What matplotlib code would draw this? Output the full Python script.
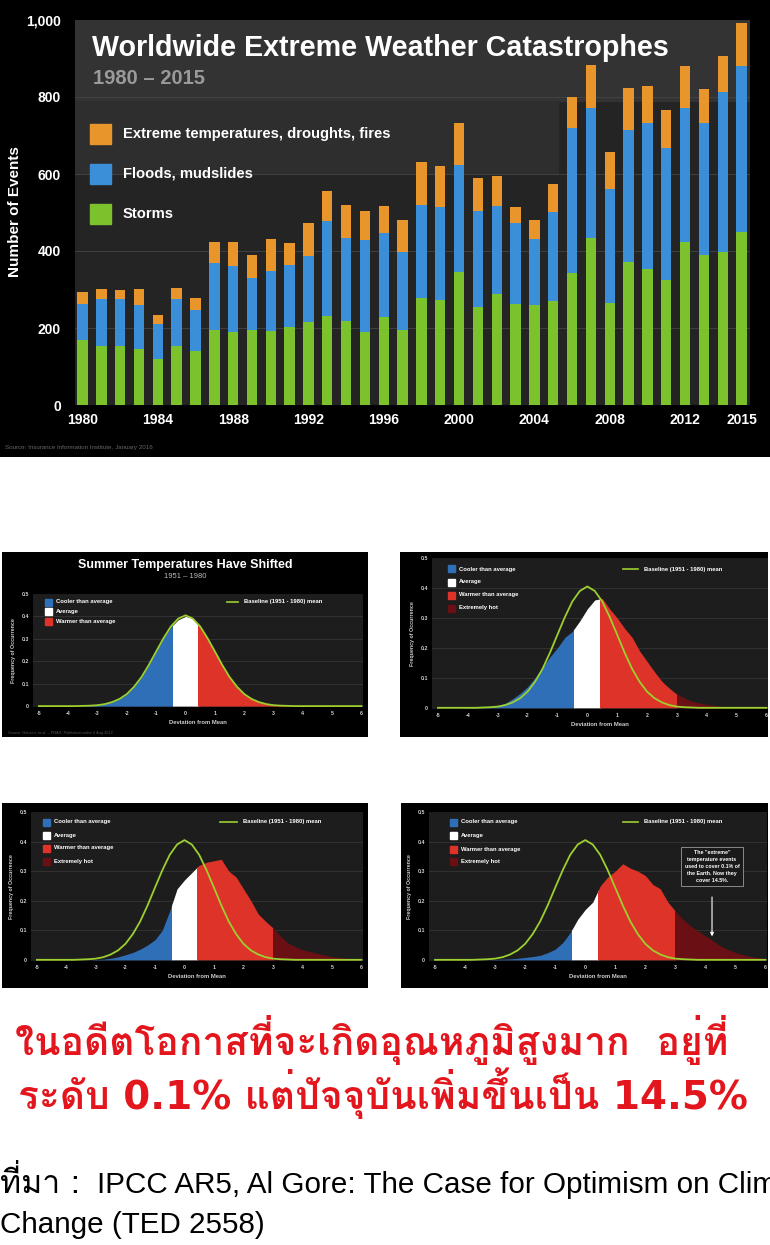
import matplotlib
matplotlib.use("Agg")
import matplotlib.pyplot as plt
from matplotlib.patches import Rectangle

W, H = 770, 1245

# ---- top chart data (number of events per year) ----
years = list(range(1980, 2016))
storms = [169, 153, 153, 146, 119, 152, 139, 195, 190, 195, 192, 203, 216, 232, 218, 190, 229, 195,
          277, 273, 346, 255, 288, 262, 260, 271, 342, 435, 266, 372, 352, 325, 424, 390, 398, 450]
floods = [93, 122, 122, 115, 91, 123, 108, 173, 172, 134, 155, 161, 171, 247, 217, 239, 217, 203,
          242, 242, 277, 250, 229, 210, 170, 231, 377, 336, 294, 342, 381, 342, 347, 342, 416, 431]
temps = [31, 26, 25, 40, 25, 29, 32, 55, 62, 61, 83, 58, 87, 77, 85, 76, 71, 82,
         111, 106, 109, 85, 78, 41, 51, 72, 82, 112, 98, 109, 96, 98, 110, 88, 92, 112]
year_ticks = [1980, 1984, 1988, 1992, 1996, 2000, 2004, 2008, 2012, 2015]
event_ticks = [0, 200, 400, 600, 800, 1000]
event_labels = ["0", "200", "400", "600", "800", "1,000"]

# ---- temperature distributions (deviation from mean, in sigma) ----
dev = [-5, -4.75, -4.5, -4.25, -4, -3.75, -3.5, -3.25, -3, -2.75, -2.5, -2.25, -2, -1.75, -1.5,
       -1.25, -1, -0.75, -0.5, -0.25, 0, 0.25, 0.5, 0.75, 1, 1.25, 1.5, 1.75, 2, 2.25, 2.5, 2.75,
       3, 3.25, 3.5, 3.75, 4, 4.25, 4.5, 4.75, 5, 5.25, 5.5, 5.75, 6]
baseline = [0, 0, 0, 0, 0, 0, 0.001, 0.002, 0.004, 0.009, 0.018, 0.032, 0.054, 0.087, 0.13, 0.184,
            0.244, 0.303, 0.355, 0.39, 0.405, 0.39, 0.355, 0.303, 0.244, 0.184, 0.13, 0.087, 0.054,
            0.032, 0.018, 0.009, 0.004, 0.002, 0.001, 0, 0, 0, 0, 0, 0, 0, 0, 0, 0]
hist_1951 = [0, 0, 0, 0, 0, 0, 0.001, 0.002, 0.004, 0.009, 0.018, 0.032, 0.054, 0.087, 0.13, 0.184,
             0.244, 0.303, 0.352, 0.385, 0.40, 0.392, 0.35, 0.303, 0.244, 0.184, 0.13, 0.087, 0.054,
             0.032, 0.018, 0.009, 0.004, 0.002, 0.001, 0, 0, 0, 0, 0, 0, 0, 0, 0, 0]
hist_b = [0, 0, 0, 0, 0.001, 0.001, 0.002, 0.004, 0.007, 0.015, 0.03, 0.048, 0.07, 0.1, 0.135,
          0.17, 0.2, 0.235, 0.255, 0.29, 0.33, 0.36, 0.365, 0.33, 0.3, 0.265, 0.235, 0.19, 0.155,
          0.12, 0.088, 0.065, 0.045, 0.033, 0.022, 0.016, 0.011, 0.008, 0.005, 0.004, 0.003,
          0.002, 0.002, 0.001, 0.001]
hist_c = [0, 0, 0, 0, 0, 0, 0, 0, 0.001, 0.002, 0.005, 0.01, 0.017, 0.025, 0.036, 0.05, 0.068,
          0.1, 0.165, 0.24, 0.27, 0.295, 0.32, 0.33, 0.335, 0.34, 0.3, 0.28, 0.24, 0.2, 0.155,
          0.13, 0.108, 0.08, 0.057, 0.045, 0.034, 0.028, 0.022, 0.016, 0.011, 0.008, 0.005,
          0.003, 0.002]
hist_d = [0, 0, 0, 0, 0, 0, 0, 0, 0.001, 0.002, 0.003, 0.005, 0.008, 0.011, 0.015, 0.024, 0.036,
          0.058, 0.092, 0.137, 0.17, 0.195, 0.25, 0.28, 0.30, 0.325, 0.31, 0.30, 0.285, 0.255,
          0.24, 0.195, 0.165, 0.137, 0.115, 0.098, 0.081, 0.064, 0.047, 0.035, 0.025, 0.017,
          0.011, 0.007, 0.004]

GREEN, BLUE, ORANGE = "#7cc22c", "#3b8fd9", "#e8962b"


def rect(x0, y0, x1, y1):
    return [x0 / W, 1 - y1 / H, (x1 - x0) / W, (y1 - y0) / H]


def fx(x):
    return x / W


def fy(y):
    return 1 - y / H


def black_box(x0, y0, x1, y1):
    b = fig.add_axes(rect(x0, y0, x1, y1))
    b.set_facecolor("black")
    b.set_xticks([])
    b.set_yticks([])
    for s in b.spines.values():
        s.set_visible(False)
    return b


plt.rcParams["font.family"] = ["Liberation Sans", "DejaVu Sans"]
fig = plt.figure(figsize=(W / 100, H / 100), dpi=100, facecolor="white")

# ================= top bar chart =================
black_box(0, 0, 770, 457)
ax = fig.add_axes(rect(75, 20, 750, 405))
ax.set_facecolor("#242424")
ax.add_patch(Rectangle((0, 0.79), 1, 0.21, transform=ax.transAxes, color="#333333", zorder=0))
ax.add_patch(Rectangle((0, 0.60), 0.715, 0.19, transform=ax.transAxes, color="#2e2e2e", zorder=0))
for g in [200, 400, 600, 800]:
    ax.axhline(g, color="#444444", lw=0.6, zorder=1)

bottom2 = [s + f for s, f in zip(storms, floods)]
ax.bar(years, storms, width=0.55, color=GREEN, zorder=3)
ax.bar(years, floods, width=0.55, bottom=storms, color=BLUE, zorder=3)
ax.bar(years, temps, width=0.55, bottom=bottom2, color=ORANGE, zorder=3)
ax.set_xlim(1979.6, 2015.45)
ax.set_ylim(0, 1000)
ax.set_xticks(year_ticks)
ax.set_xticklabels([str(y) for y in year_ticks])
ax.set_yticks(event_ticks)
ax.set_yticklabels(event_labels)
ax.tick_params(colors="white", length=0, labelsize=10)
ax.tick_params(axis="y", pad=10)
ax.tick_params(axis="x", pad=6)
for lab in ax.get_xticklabels() + ax.get_yticklabels():
    lab.set_fontweight("bold")
for s in ax.spines.values():
    s.set_visible(False)

fig.text(fx(15), fy(212), "Number of Events", rotation=90, color="white", fontsize=11,
         fontweight="bold", ha="center", va="center")
fig.text(fx(92), fy(48), "Worldwide Extreme Weather Catastrophes", color="white", fontsize=20.6,
         fontweight="bold", va="center")
fig.text(fx(93), fy(78), "1980 \u2013 2015", color="#9a9a9a", fontsize=14.5, fontweight="bold",
         va="center")
legend_items = [("Extreme temperatures, droughts, fires", ORANGE, 134),
                ("Floods, mudslides", BLUE, 174),
                ("Storms", GREEN, 214)]
for name, col, yc in legend_items:
    fig.add_artist(Rectangle((fx(90), fy(yc + 10)), 21 / W, 20 / H, transform=fig.transFigure,
                             color=col))
    fig.text(fx(123), fy(yc), name, color="white", fontsize=10.6, fontweight="bold", va="center")
fig.text(fx(5), fy(447), "Source: Insurance Information Institute, January 2016", color="#666666",
         fontsize=4.5, va="center")

# ================= distribution panels =================
C_BLUE, C_WHITE, C_RED, C_DARK = "#2f6fb8", "#ffffff", "#dd3328", "#6a1014"
TXT = "#cfcfcf"


def bell(box, plot, hist, legend, extreme=True):
    black_box(*box)
    a = fig.add_axes(rect(*plot))
    a.set_facecolor("#1d1d1d")
    for g in [0.1, 0.2, 0.3, 0.4]:
        a.axhline(g, color="#3a3a3a", lw=0.5, zorder=1)
    regions = [(-6, -0.43, C_BLUE), (-0.43, 0.43, C_WHITE)]
    if extreme:
        regions += [(0.43, 3, C_RED), (3, 7, C_DARK)]
    else:
        regions += [(0.43, 7, C_RED)]
    for x0, x1, col in regions:
        poly = a.fill_between(dev, 0, hist, color=col, lw=0, zorder=2)
        poly.set_clip_path(Rectangle((x0, -1), x1 - x0, 3, transform=a.transData))
    a.plot(dev, baseline, color="#9ccf2f", lw=1.3, zorder=4)
    a.set_xlim(-5.2, 6.05)
    a.set_ylim(-0.004, 0.5)
    a.set_xticks(range(-5, 7))
    a.set_xticklabels([str(v) for v in range(-5, 7)])
    a.set_yticks([0, 0.1, 0.2, 0.3, 0.4, 0.5])
    a.set_yticklabels(["0", "0.1", "0.2", "0.3", "0.4", "0.5"])
    a.tick_params(colors=TXT, length=0, labelsize=3.8, pad=3)
    for lab in a.get_xticklabels() + a.get_yticklabels():
        lab.set_fontweight("bold")
    for s in a.spines.values():
        s.set_visible(False)
    a.set_xlabel("Deviation from Mean", color=TXT, fontsize=4.2, fontweight="bold", labelpad=3)
    a.set_ylabel("Frequency of Occurrence", color=TXT, fontsize=3.8, fontweight="bold", labelpad=4)
    sq_x, rows, bl_x0, bl_x1 = legend
    names = ["Cooler than average", "Average", "Warmer than average", "Extremely hot"]
    cols = [C_BLUE, C_WHITE, C_RED, C_DARK]
    for name, col, yc in zip(names, cols, rows):
        fig.add_artist(Rectangle((fx(sq_x), fy(yc + 3.5)), 7 / W, 7 / H,
                                 transform=fig.transFigure, color=col))
        fig.text(fx(sq_x + 11), fy(yc), name, color="white", fontsize=4.2, fontweight="bold",
                 va="center")
    fig.add_artist(plt.Line2D([fx(bl_x0), fx(bl_x1)], [fy(rows[0]), fy(rows[0])],
                              transform=fig.transFigure, color="#9ccf2f", lw=1.2))
    fig.text(fx(bl_x1 + 6), fy(rows[0]), "Baseline (1951 - 1980) mean", color="white",
             fontsize=4.2, fontweight="bold", va="center")
    return a


bell((2, 552, 368, 737), (33, 594, 363, 707), hist_1951, (45, [602, 611, 621], 227, 238),
     extreme=False)
fig.text(fx(185), fy(565), "Summer Temperatures Have Shifted", color="white", fontsize=9,
         fontweight="bold", ha="center", va="center")
fig.text(fx(185), fy(577), "1951 \u2013 1980", color="#bbbbbb", fontsize=5.5, ha="center",
         va="center")
fig.text(fx(8), fy(733), "Source: Hansen, et al. \u2013 PNAS, Published online 6 Aug 2012",
         color="#555555", fontsize=2.8, va="center")

bell((400, 552, 768, 737), (432, 558, 768, 709), hist_b, (448, [569, 582, 595, 608], 623, 638))
bell((2, 803, 368, 988), (31, 812, 363, 961), hist_c, (43, [822, 835, 848, 861], 220, 237))
a4 = bell((401, 803, 768, 988), (429, 812, 767, 961), hist_d, (450, [822, 835, 849, 861], 623, 638))
a4.text(4.22, 0.315, 'The "extreme"\ntemperature events\nused to cover 0.1% of\nthe Earth. Now they\n'
        'cover 14.5%.', color="white", fontsize=3.8, fontweight="bold", ha="center", va="center",
        linespacing=1.5, zorder=6,
        bbox=dict(boxstyle="square,pad=0.6", fc="#1a1a1a", ec="#9a9a9a", lw=0.6))
a4.annotate("", xy=(4.22, 0.07), xytext=(4.22, 0.222),
            arrowprops=dict(arrowstyle="-|>", color="white", lw=0.8, mutation_scale=5), zorder=6)

# ================= Thai caption =================
thai_bold = ["DejaVu Sans", "Loma", "Noto Sans Thai Looped"]
fig.text(fx(15), fy(1055), "ในอดีตโอกาสที่จะเกิดอุณหภูมิสูงมาก  อยู่ที่", color="#e3161d",
         fontsize=28, fontweight="bold", va="baseline", family=thai_bold)
fig.text(fx(18), fy(1109), "ระดับ 0.1% แต่ปัจจุบันเพิ่มขึ้นเป็น 14.5%", color="#e3161d",
         fontsize=28, fontweight="bold", va="baseline", family=thai_bold)
fig.text(fx(0), fy(1193), "ที่มา :", color="black", fontsize=23, va="baseline",
         family=["Loma", "Noto Sans Thai Looped", "DejaVu Sans"])
fig.text(fx(97), fy(1193), "IPCC AR5, Al Gore: The Case for Optimism on Climate",
         color="black", fontsize=21.3, va="baseline")
fig.text(fx(0), fy(1233), "Change (TED 2558)", color="black", fontsize=21.3, va="baseline")

fig.savefig("out.png", dpi=100, facecolor="white")
